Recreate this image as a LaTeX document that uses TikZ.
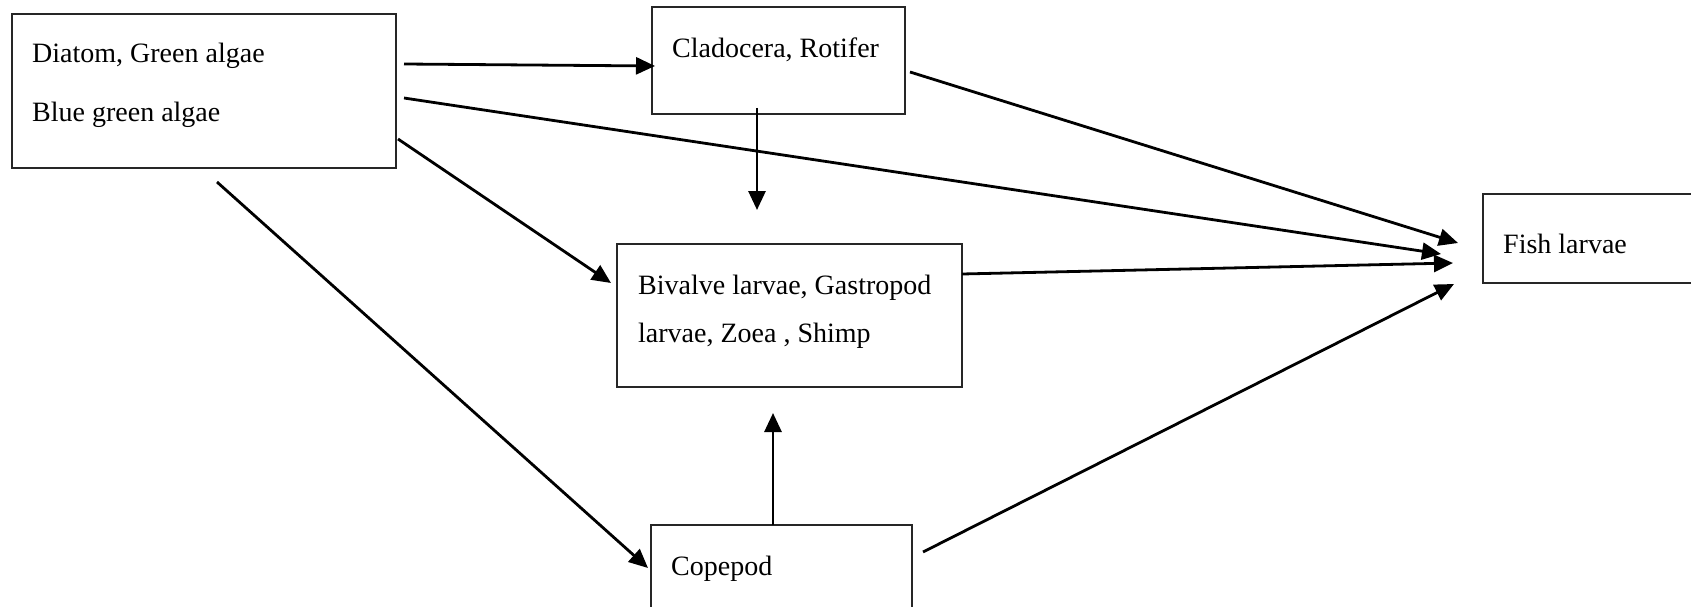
\documentclass[tikz,border=0pt]{standalone}
\usepackage{fontspec}
\setmainfont{Liberation Serif}
\usetikzlibrary{arrows.meta,calc}
\begin{document}
\begin{tikzpicture}[x=1pt,y=-1pt,
  box/.style={draw=black!85,line width=1.4pt,rectangle,inner sep=0pt,outer sep=0pt,anchor=north west},
  lbl/.style={inner sep=0pt,anchor=base west,font=\fontsize{28}{32}\selectfont},
  conn/.style={line width=2.8pt,-{Triangle[length=19pt,width=17pt]}}]
\useasboundingbox (0,0) rectangle (1691,607);
\clip (0,0) rectangle (1691,607);
\node[box,minimum width=384pt,minimum height=154pt] (A) at (12,14) {};
\node[box,minimum width=253pt,minimum height=107pt] (B) at (652,7) {};
\node[box,minimum width=345pt,minimum height=143pt] (C) at (617,244) {};
\node[box,minimum width=261pt,minimum height=100pt] (D) at (651,525) {};
\node[box,minimum width=220pt,minimum height=89pt] (E) at (1483,194) {};
\node[lbl] (A1) at (32,63) {Diatom, Green algae};
\node[lbl] (A2) at (32,122) {Blue green algae};
\node[lbl] (B1) at (672,58) {Cladocera, Rotifer};
\node[lbl] (C1) at (638,294) {Bivalve larvae, Gastropod};
\node[lbl] (C2) at (638,342) {larvae, Zoea , Shimp};
\node[lbl] (D1) at (671,575) {Copepod};
\node[lbl] (E1) at (1503,253) {Fish larvae};
\draw[conn] ($(A.north east)+(8,50)$) -- ($(B.north west)+(3,59)$);
\draw[conn] ($(A.north east)+(8,84)$) -- ($(E.north west)+(-42,60)$);
\draw[conn] ($(A.north east)+(2,125)$) -- ($(C.north west)+(-6,39)$);
\draw[conn] ($(A.south west)+(205,14)$) -- ($(D.north west)+(-3,43)$);
\draw[conn] ($(B.south west)+(105,-6)$) -- ($(C.north west)+(140,-34)$);
\draw[conn] ($(B.north east)+(5,65)$) -- ($(E.north west)+(-25,49)$);
\draw[conn] ($(C.north east)+(0,30)$) -- ($(E.north west)+(-30,69)$);
\draw[conn] ($(D.north west)+(122,0)$) -- ($(C.south west)+(156,26)$);
\draw[conn] ($(D.north east)+(11,27)$) -- ($(E.north west)+(-29,90)$);
\end{tikzpicture}
\end{document}
